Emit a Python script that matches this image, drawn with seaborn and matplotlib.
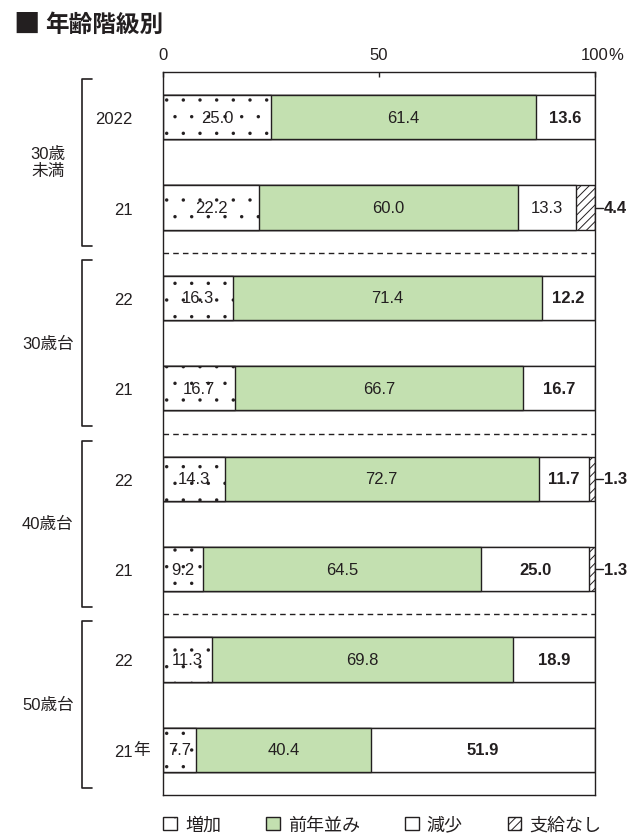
import numpy as np
import pandas as pd
import matplotlib
matplotlib.use('Agg')
import matplotlib.pyplot as plt
import matplotlib.transforms as mtransforms
from matplotlib.patches import Patch
import seaborn as sns

# ---------------- data ----------------
groups = ['30歳\n未満', '30歳台', '40歳台', '50歳台']
group_rows = [(0, 1), (2, 3), (4, 5), (6, 7)]
year_labels = ['2022', '21', '22', '21', '22', '21', '22', '21']
increase = [25.0, 22.2, 16.3, 16.7, 14.3, 9.2, 11.3, 7.7]
same = [61.4, 60.0, 71.4, 66.7, 72.7, 64.5, 69.8, 40.4]
decrease = [13.6, 13.3, 12.2, 16.7, 11.7, 25.0, 18.9, 51.9]
no_pay = [0.0, 4.4, 0.0, 0.0, 1.3, 1.3, 0.0, 0.0]
series_names = ['増加', '前年並み', '減少', '支給なし']
x_ticks = [0, 50, 100]
x_tick_labels = ['0', '50', '100']

# ---------------- style ----------------
INK = '#231f20'
GREEN = '#c3e0b0'
FS = 12
sns.set_theme(style='white')
plt.rcParams['font.family'] = ['Liberation Sans', 'Noto Sans CJK JP']
plt.rcParams['hatch.linewidth'] = 0.7
plt.rcParams['hatch.color'] = INK
plt.rcParams['text.color'] = INK
plt.rcParams['axes.edgecolor'] = INK
plt.rcParams['xtick.color'] = INK
plt.rcParams['ytick.color'] = INK

fig = plt.figure(figsize=(6.44, 8.37), dpi=100)
ax = fig.add_axes([163 / 644, 41 / 837, 432 / 644, 723 / 837])

rows = [f'r{i}' for i in range(len(year_labels))]
df = pd.DataFrame({'row': rows, 'inc': increase, 'same': same,
                   'dec': decrease, 'nop': no_pay})
df['c1'] = df['inc']
df['c2'] = df['c1'] + df['same']
df['c3'] = df['c2'] + df['dec']
df['c4'] = df['c3'] + df['nop']

layers = [
    ('c4', 'white', '////', 0.7),
    ('c3', 'white', None, 0.7),
    ('c2', GREEN, None, 0.7),
    ('c1', 'white', '.', 0.05),
]
for col, fc, hatch, hlw in layers:
    plt.rcParams['hatch.linewidth'] = hlw
    n_before = len(ax.patches)
    kw = dict(hatch=hatch) if hatch else {}
    sns.barplot(data=df, x=col, y='row', order=rows, orient='h', color=fc,
                saturation=1, edgecolor=INK, linewidth=1.0, width=0.49,
                errorbar=None, ax=ax, **kw)
    for p in ax.patches[n_before:]:
        if hasattr(p, 'set_hatch_linewidth'):
            p.set_hatch_linewidth(hlw)
plt.rcParams['hatch.linewidth'] = 0.7

ax.set_xlim(0, 100)
ax.set_ylim(len(rows) - 0.5, -0.5)
ax.set_xlabel('')
ax.set_ylabel('')

# top axis
ax.xaxis.tick_top()
ax.set_xticks(x_ticks)
ax.set_xticklabels(x_tick_labels, fontsize=FS)
ax.tick_params(axis='x', direction='in', length=3.6, width=1.0, pad=7)
blend_xa = mtransforms.blended_transform_factory(ax.transData, ax.transAxes)
ax.annotate('%', xy=(100, 1), xycoords=blend_xa, xytext=(9.4, 7),
            textcoords='offset points', ha='left', va='bottom', fontsize=FS)

# y labels
ax.set_yticks(range(len(rows)))
ax.set_yticklabels(year_labels, fontsize=FS)
ax.tick_params(axis='y', length=0, pad=21.6)
blend_ad = mtransforms.blended_transform_factory(ax.transAxes, ax.transData)
ax.text((133 - 163) / 432, len(rows) - 1, '年', transform=blend_ad,
        ha='left', va='center', fontsize=FS)

for s in ax.spines.values():
    s.set_visible(True)
    s.set_color(INK)
    s.set_linewidth(1.0)

# separators
for g in range(len(group_rows) - 1):
    ax.axhline(group_rows[g][1] + 0.5, color=INK, lw=1.0, ls=(0, (4, 3)))

# brackets + group labels
for name, (a, b) in zip(groups, group_rows):
    y0, y1 = a - 0.42, b + 0.42
    xv, xt = (82 - 163) / 432, (92 - 163) / 432
    ax.plot([xt, xv, xv, xt], [y0, y0, y1, y1], color=INK, lw=1.2,
            transform=blend_ad, clip_on=False)
    ax.text((48 - 163) / 432, (a + b) / 2, name, transform=blend_ad,
            ha='center', va='center', fontsize=FS, linespacing=1.15)

# value labels
bold_dec = {0, 2, 3, 4, 5, 6, 7}
for i in range(len(rows)):
    ax.text(increase[i] / 2, i, f'{increase[i]:.1f}', ha='center',
            va='center', fontsize=FS)
    ax.text(increase[i] + same[i] / 2, i, f'{same[i]:.1f}', ha='center',
            va='center', fontsize=FS)
    ax.text(increase[i] + same[i] + decrease[i] / 2, i, f'{decrease[i]:.1f}',
            ha='center', va='center', fontsize=FS,
            fontweight='bold' if i in bold_dec else 'normal')
    if no_pay[i] > 0:
        ax.plot([1.0, 1.019], [i, i], color=INK, lw=1.0, transform=blend_ad,
                clip_on=False)
        ax.text(1.021, i, f'{no_pay[i]:.1f}', transform=blend_ad, ha='left',
                va='center', fontsize=FS, fontweight='bold')

# title
fig.text(13 / 644, 1 - 25 / 837, '■', fontsize=19, ha='left', va='center',
         color=INK, family=['Noto Sans CJK JP'])
fig.text(45 / 644, 1 - 25 / 837, '年齢階級別', fontsize=17, ha='left',
         va='center', fontweight='bold', color=INK)

# legend
handles = [
    Patch(facecolor='white', edgecolor=INK, hatch='.', lw=1.0),
    Patch(facecolor=GREEN, edgecolor=INK, lw=1.0),
    Patch(facecolor='white', edgecolor=INK, lw=1.0),
    Patch(facecolor='white', edgecolor=INK, hatch='////', lw=1.0),
]
leg = fig.legend(handles, series_names, loc='center',
                 bbox_to_anchor=(0.594, 0.0131), ncol=4, frameon=False,
                 fontsize=13, handlelength=0.75, handleheight=0.75,
                 handletextpad=0.45, columnspacing=2.5, borderaxespad=0)
for p in leg.get_patches():
    if hasattr(p, 'set_hatch_linewidth') and p.get_hatch() == '.':
        p.set_hatch_linewidth(0.05)

fig.savefig('out.png', dpi=100)
